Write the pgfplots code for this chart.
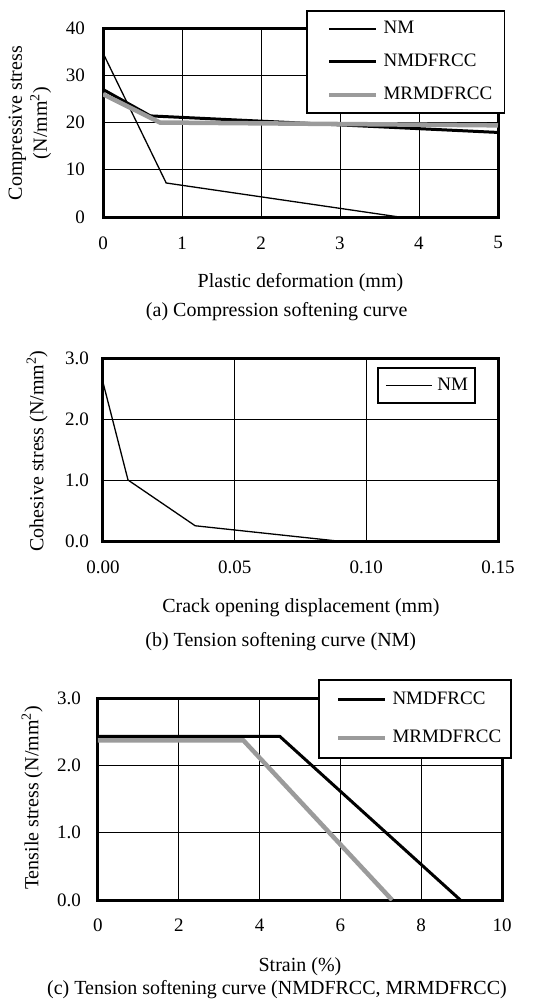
\documentclass[border=0pt]{standalone}
\usepackage{fontspec}
\setmainfont{Liberation Serif}
\usepackage{pgfplots}
\pgfplotsset{compat=1.18}
\definecolor{lgray}{RGB}{155,155,155}

\pgfplotsset{
 mystyle/.style={
  scale only axis,
  axis line style={line width=3pt},
  grid=major,
  major grid style={line width=0.9pt, black},
  major tick length=0pt,
  /pgf/number format/assume math mode=true,
  tick label style={font=\fontsize{19}{22}\selectfont},
  label style={font=\fontsize{20}{25}\selectfont, align=center},
  legend style={font=\fontsize{19}{22}\selectfont, draw=black, line width=1.6pt, fill=white,
     /tikz/column sep=3pt,
     nodes={inner xsep=2pt, inner ysep=0pt, text height=14pt, text depth=4pt}},
  legend cell align=left,
 }
}

\begin{document}
\begin{tikzpicture}
\path[use as bounding box] (0pt,0pt) rectangle (541pt,-1005pt);

% (a)
\begin{axis}[mystyle,
  at={(103pt,-217pt)}, anchor=south west,
  width=395pt, height=189pt,
  xmin=0, xmax=5, ymin=0, ymax=40,
  xtick={0,1,2,3,4,5}, ytick={0,10,20,30,40},
  xticklabel style={yshift=-16pt},
  yticklabel style={xshift=-14.5pt},
  xlabel={Plastic deformation (mm)},
  xlabel style={at={(axis description cs:0.5,-0.349)}, anchor=center},
  ylabel={Compressive stress\\(N/mm\textsuperscript{2})},
  ylabel style={at={(axis description cs:-0.185,0.497)}, anchor=center, rotate=0},
  legend style={at={(1.018,1.095)}, anchor=north east, inner xsep=10pt, inner ysep=9pt, /tikz/row sep=15pt},
  legend image code/.code={\path (-10pt,0pt); \draw[#1] (0pt,0pt) -- (47pt,0pt);},
  extra description/.code={\node[font=\fontsize{20}{25}\selectfont] at (0.44,-0.503) {(a) Compression softening curve};},
]
\addplot[black, line width=1.3pt] coordinates {(0,34.7) (0.8,7.2) (3.75,0)};
\addlegendentry{NM}
\addplot[black, line width=3pt] coordinates {(0,27.0) (0.6,21.4) (5,17.9)};
\addlegendentry{NMDFRCC}
\addplot[lgray, line width=4.5pt] coordinates {(0,26.0) (0.72,20.0) (5,19.4)};
\addlegendentry{MRMDFRCC}
\end{axis}

% (b)
\begin{axis}[mystyle,
  at={(103pt,-541pt)}, anchor=south west,
  width=395pt, height=183pt,
  xmin=0, xmax=0.15, ymin=0, ymax=3,
  xtick={0,0.05,0.1,0.15}, xticklabels={0.00,0.05,0.10,0.15},
  ytick={0,1,2,3}, yticklabels={0.0,1.0,2.0,3.0},
  xticklabel style={yshift=-16pt},
  yticklabel style={xshift=-10.7pt},
  xlabel={Crack opening displacement (mm)},
  xlabel style={at={(axis description cs:0.501,-0.366)}, anchor=center},
  ylabel={Cohesive stress (N/mm\textsuperscript{2})},
  ylabel style={at={(axis description cs:-0.167,0.492)}, anchor=center},
  legend style={at={(0.944,0.951)}, anchor=north east, inner xsep=5pt, inner ysep=8.5pt},
  legend image code/.code={\path (-2pt,0pt); \draw[#1] (0pt,0pt) -- (46pt,0pt);},
  extra description/.code={\node[font=\fontsize{20}{25}\selectfont] at (0.45,-0.552) {(b) Tension softening curve (NM)};},
]
\addplot[black, line width=1.3pt] coordinates {(0,2.6) (0.0095,1.0) (0.035,0.25) (0.089,0)};
\addlegendentry{NM}
\end{axis}

% (c)
\begin{axis}[mystyle,
  at={(98pt,-900pt)}, anchor=south west,
  width=404pt, height=202pt,
  xmin=0, xmax=10, ymin=0, ymax=3,
  xtick={0,2,4,6,8,10},
  ytick={0,1,2,3}, yticklabels={0.0,1.0,2.0,3.0},
  xticklabel style={yshift=-15pt},
  yticklabel style={xshift=-13.7pt},
  xlabel={Strain (\%)},
  xlabel style={at={(axis description cs:0.5,-0.332)}, anchor=center},
  ylabel={Tensile stress (N/mm\textsuperscript{2})},
  ylabel style={at={(axis description cs:-0.163,0.505)}, anchor=center},
  legend style={at={(1.025,1.094)}, anchor=north east, inner xsep=8pt, inner ysep=11pt, /tikz/row sep=20pt},
  legend image code/.code={\path (-9pt,0pt); \draw[#1] (0pt,0pt) -- (47pt,0pt);},
  extra description/.code={\node[font=\fontsize{20}{25}\selectfont] at (0.443,-0.446) {(c) Tension softening curve (NMDFRCC, MRMDFRCC)};},
]
\addplot[black, line width=3pt] coordinates {(0,2.43) (4.5,2.43) (8.97,0)};
\addlegendentry{NMDFRCC}
\addplot[lgray, line width=4.5pt] coordinates {(0,2.37) (3.6,2.37) (7.28,0)};
\addlegendentry{MRMDFRCC}
\end{axis}
\end{tikzpicture}
\end{document}
